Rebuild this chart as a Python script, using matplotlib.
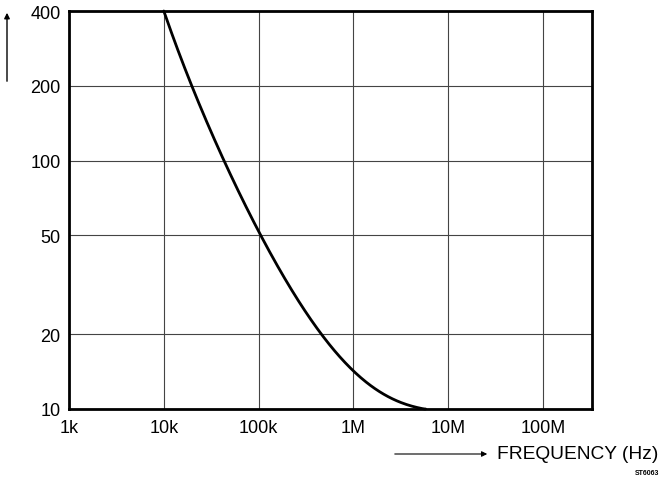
import matplotlib
matplotlib.use("Agg")
import matplotlib.pyplot as plt
import matplotlib.patches as mpatches
import numpy as np

plt.rcParams['font.family'] = ['Liberation Sans', 'DejaVu Sans']

freq_hz = [1.0e4, 1.4e4, 2.0e4, 3.0e4, 4.3e4, 7.0e4, 1.05e5, 2.0e5, 4.4e5, 1.0e6, 2.0e6, 3.0e6, 4.5e6, 5.8e6]
values = [400, 280, 200, 135, 100, 68, 50, 33, 20, 14.4, 11.6, 10.7, 10.15, 10.0]

xticks = [1e3, 1e4, 1e5, 1e6, 1e7, 1e8]
xticklabels = ['1k', '10k', '100k', '1M', '10M', '100M']
yticks = [10, 20, 50, 100, 200, 400]
yticklabels = ['10', '20', '50', '100', '200', '400']

fig = plt.figure(figsize=(6.67, 4.89), dpi=100)
ax = fig.add_axes([69/667, 1-410/489, (592-69)/667, (410-12)/489])
ax.set_xscale('log')
ax.set_yscale('log')
ax.set_xlim(1e3, 3.3e8)
ax.set_ylim(10, 400)

lx = np.log10(freq_hz)
ly = np.log10(values)
xs = np.linspace(lx[0], lx[-1], 300)
coef = np.polyfit(lx, ly, 5)
ys = np.polyval(coef, xs)
ys = np.clip(ys, 1.0, np.log10(400))
ax.plot(10**xs, 10**ys, color='black', lw=2.0, solid_capstyle='round', clip_on=False)

ax.set_xticks(xticks)
ax.set_xticklabels(xticklabels, fontsize=13)
ax.set_yticks(yticks)
ax.set_yticklabels(yticklabels, fontsize=13)
ax.xaxis.set_minor_locator(matplotlib.ticker.NullLocator())
ax.yaxis.set_minor_locator(matplotlib.ticker.NullLocator())
ax.tick_params(axis='y', length=0, pad=6)
ax.tick_params(axis='x', length=0, pad=7)
ax.grid(True, color='#444444', lw=0.8)
for s in ax.spines.values():
    s.set_linewidth(2.0)

# y arrow
fig.patches.append(mpatches.FancyArrowPatch((7/667, 1-85/489), (7/667, 1-11/489),
                   transform=fig.transFigure, arrowstyle='-|>', mutation_scale=8, lw=1.0, color='black'))
# x arrow
fig.patches.append(mpatches.FancyArrowPatch((392/667, 1-455/489), (490/667, 1-455/489),
                   transform=fig.transFigure, arrowstyle='-|>', mutation_scale=8, lw=0.8, color='black'))
fig.text(497/667, 1-455/489, 'FREQUENCY (Hz)', fontsize=13.8, va='center', ha='left')
fig.text(659/667, 1-474/489, 'ST6063', fontsize=5, fontweight='bold', va='center', ha='right')

fig.savefig('out.png', dpi=100)
